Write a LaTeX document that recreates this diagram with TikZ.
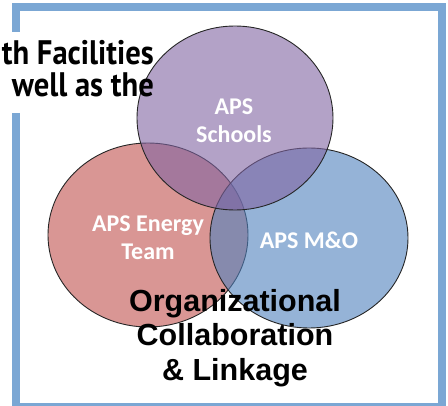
\documentclass[tikz,border=0pt]{standalone}
\usepackage{fontspec}
\setmainfont{Carlito}
\newfontfamily\arialfont{Liberation Sans}
\newfontfamily\handfont[FakeStretch=0.9]{PT Sans}
\usepackage{xcolor}
\definecolor{framebl}{HTML}{7BA7D4}
\definecolor{schoolpu}{HTML}{8064A2}
\definecolor{energyre}{HTML}{C0504D}
\definecolor{mobl}{HTML}{4F81BD}

\begin{document}
\begin{tikzpicture}[x=1pt, y=-1pt,
    venn/.style={draw=black!85, line width=0.9pt, fill opacity=0.6},
    inner/.style={text=white, font=\bfseries\fontsize{24}{28}\selectfont, align=center}]
            \useasboundingbox (0,0) rectangle (448,406);
            % frame, broken where the slide text runs over it
            \draw[framebl, line width=8pt] (16,113) -- (16,407) -- (442,407) -- (442,7) -- (16,7) -- (16,32);
            % the three sets
            \fill[venn, fill=energyre] (148,235) ellipse (100 and 92);
            \fill[venn, fill=mobl] (309,238) ellipse (99 and 90);
            \fill[venn, fill=schoolpu] (235,118) ellipse (98 and 92);
            \node[inner] (schools) at (234,121) {APS\\Schools};
            \node[inner] (energy) at (148,238) {APS Energy\\Team};
            \node[inner] (mo) at (309,240) {APS M\&O};
            \node[font=\arialfont\bfseries\fontsize{30.5}{34.5}\selectfont, align=center] (linkage) at (235,338) {Organizational\\Collaboration\\\& Linkage};
            \node[font=\handfont\bfseries\fontsize{34}{32}\selectfont, align=right, anchor=base east, inner sep=0pt] (slidetext) at (154,97) {th Facilities\\well as the};
        \end{tikzpicture}
\end{document}
